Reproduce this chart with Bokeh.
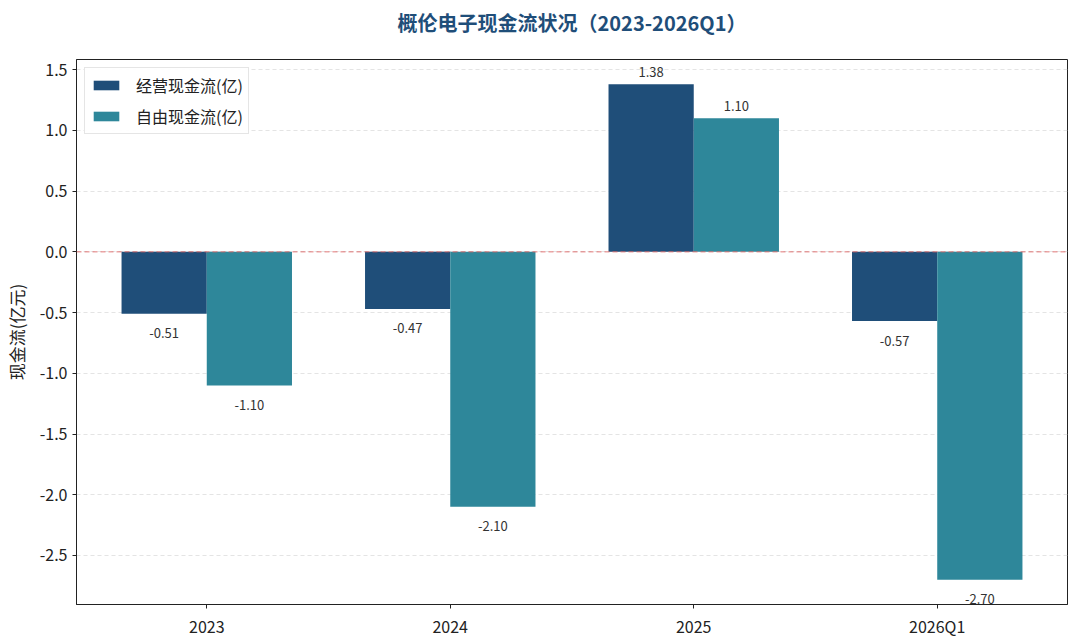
from bokeh.plotting import figure
from bokeh.models import ColumnDataSource, Span, FixedTicker, NumeralTickFormatter, Range1d, Legend, LegendItem, Title
from bokeh.core.properties import value
from bokeh.embed import file_html
from bokeh.resources import INLINE

categories = ["2023", "2024", "2025", "2026Q1"]
operating_cf = [-0.51, -0.47, 1.38, -0.57]
free_cf = [-1.10, -2.10, 1.10, -2.70]
y_ticks = [-2.5, -2.0, -1.5, -1.0, -0.5, 0.0, 0.5, 1.0, 1.5]
title_text = "概伦电子现金流状况（2023-2026Q1）"

FONT = "Noto Sans CJK SC"
C1 = "#1f4e79"
C2 = "#2e879a"
W = 0.35

idx = list(range(len(categories)))
x1 = [i - W / 2 for i in idx]
x2 = [i + W / 2 for i in idx]

def label_y(v):
    return v + 0.1 if v >= 0 else v - 0.16

src1 = ColumnDataSource(dict(x=x1, top=operating_cf, ly=[label_y(v) for v in operating_cf],
                             txt=["%.2f" % v for v in operating_cf]))
src2 = ColumnDataSource(dict(x=x2, top=free_cf, ly=[label_y(v) for v in free_cf],
                             txt=["%.2f" % v for v in free_cf]))

xr = Range1d(-0.535, 3.535)
yr = Range1d(-2.904, 1.584)
p = figure(width=1072, height=640, output_backend="svg", toolbar_location=None,
           x_range=xr, y_range=yr,
           min_border_left=75, min_border_right=5, min_border_top=59, min_border_bottom=35)

# spacer between the plot frame and the title
p.add_layout(Title(text=" ", text_font_size="19px", standoff=0), "above")

p.title.text = title_text
p.title.align = "center"
p.title.text_font = FONT
p.title.text_font_size = "20px"
p.title.text_font_style = "bold"
p.title.text_color = C1
p.title.standoff = 0

r1 = p.vbar(x="x", top="top", bottom=0, width=W, source=src1, fill_color=C1, line_color=None)
r2 = p.vbar(x="x", top="top", bottom=0, width=W, source=src2, fill_color=C2, line_color=None)

for s in (src1, src2):
    p.text(x="x", y="ly", text="txt", source=s, text_align="center", text_baseline="middle",
           text_font=value(FONT), text_font_size="13px", text_color="#333333")

p.add_layout(Span(location=0, dimension="width", line_color="#dd5f5f", line_alpha=0.85,
                  line_dash="5 3", line_width=1))

legend = Legend(items=[LegendItem(label="经营现金流(亿)", renderers=[r1]),
                       LegendItem(label="自由现金流(亿)", renderers=[r2])],
                location="top_left")
legend.label_text_font = FONT
legend.label_text_font_size = "16px"
legend.label_text_color = "#222222"
legend.glyph_width = 32
legend.glyph_height = 12
legend.label_height = 20
legend.spacing = 7
legend.padding = 5
legend.margin = 8
legend.border_line_color = "#cccccc"
legend.label_standoff = 14
p.add_layout(legend)

p.xaxis.ticker = FixedTicker(ticks=idx)
p.xaxis.major_label_overrides = {i: c for i, c in zip(idx, categories)}
p.yaxis.ticker = FixedTicker(ticks=y_ticks)
p.yaxis.formatter = NumeralTickFormatter(format="0.0")
p.yaxis.axis_label = "现金流(亿元)"
p.yaxis.axis_label_text_font = FONT
p.yaxis.axis_label_text_font_size = "17px"
p.yaxis.axis_label_text_font_style = "normal"
p.yaxis.axis_label_text_color = "#222222"
p.yaxis.axis_label_standoff = 8

for ax in (p.xaxis, p.yaxis):
    ax.major_label_text_font = FONT
    ax.major_label_text_font_size = "16px"
    ax.major_label_text_color = "#222222"
    ax.minor_tick_line_color = None
    ax.major_tick_out = 4
    ax.major_tick_in = 0
    ax.major_tick_line_color = "#222222"
    ax.axis_line_color = "#222222"

p.xgrid.grid_line_color = None
p.ygrid.grid_line_color = "#dddddd"
p.ygrid.grid_line_dash = "4 3"
p.ygrid.grid_line_alpha = 0.8
p.outline_line_color = "#222222"
p.outline_line_alpha = 1.0

open("out.html", "w").write(file_html(p, INLINE))
